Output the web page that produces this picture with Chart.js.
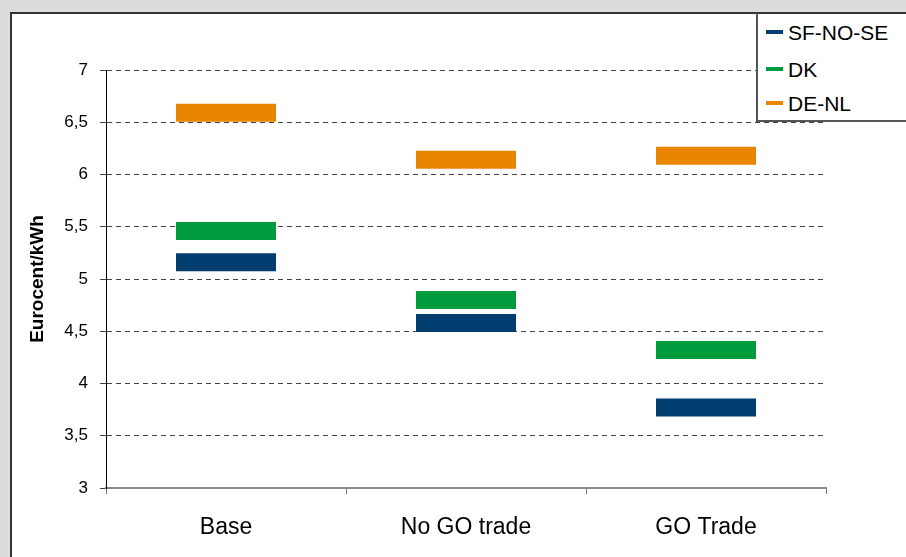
<!DOCTYPE html>
<html>
<head>
<meta charset="utf-8">
<script src="https://cdn.jsdelivr.net/npm/chart.js@4/dist/chart.umd.min.js"></script>
<style>
  html, body { margin: 0; padding: 0; }
  body { width: 906px; height: 557px; background: #dcdcdc; position: relative; overflow: hidden;
         font-family: "Liberation Sans", Arial, sans-serif; }
  .panel { position: absolute; left: 10px; top: 12px; width: 920px; height: 570px;
           background: #fff; border-top: 2px solid #333; border-left: 2px solid #333; }
  #chart { position: absolute; left: 0; top: 0; }
  .legend { position: absolute; left: 756px; top: 12px; width: 170px; height: 106px;
            background: #fff; border-left: 2px solid #555; border-bottom: 2px solid #555; border-top: 2px solid #333; }
  .legend .item { position: absolute; left: 8px; height: 26px; font-size: 21px; line-height: 26px; color: #000; }
  .legend .swatch { display: inline-block; width: 17px; height: 4px; vertical-align: middle; margin-right: 5px; position: relative; top: -2px; }
</style>
</head>
<body>
<div class="panel"></div>
<canvas id="chart" width="906" height="557"></canvas>
<div class="legend" id="legend"></div>
<script>
  // === Data ===
  const categories = ['Base', 'No GO trade', 'GO Trade'];
  const seriesNames = ['SF-NO-SE', 'DK', 'DE-NL'];
  const sfNoSe = [5.16, 4.58, 3.77];
  const dk = [5.46, 4.80, 4.32];
  const deNl = [6.59, 6.14, 6.18];
  const colors = ['#023d6f', '#019b3e', '#ea8500'];
  const yTicks = [3, 3.5, 4, 4.5, 5, 5.5, 6, 6.5, 7];

  const FONT = '"Liberation Sans", Arial, sans-serif';

  function markerSet(label, data, color) {
    return {
      label: label,
      data: data,
      showLine: false,
      pointStyle: 'line',
      pointRadius: 50,
      pointHoverRadius: 50,
      pointBorderWidth: 18,
      pointHoverBorderWidth: 18,
      borderColor: color,
      backgroundColor: color
    };
  }

  const chart = new Chart(document.getElementById('chart'), {
    type: 'line',
    data: {
      labels: categories,
      datasets: [
        markerSet(seriesNames[0], sfNoSe, colors[0]),
        markerSet(seriesNames[1], dk, colors[1]),
        markerSet(seriesNames[2], deNl, colors[2])
      ]
    },
    options: {
      responsive: false,
      animation: false,
      events: [],
      layout: { padding: { left: 0, top: 70, right: 80, bottom: 0 } },
      plugins: {
        legend: { display: false },
        tooltip: { enabled: false }
      },
      scales: {
        x: {
          offset: true,
          grid: { offset: true, drawOnChartArea: false, drawTicks: true, tickLength: 6, color: '#777', lineWidth: 1 },
          border: { display: true, color: '#888', width: 2 },
          ticks: { color: '#000', padding: 20, font: { family: FONT, size: 23 } },
          afterFit: function (scale) { scale.height = 69; }
        },
        y: {
          min: 3,
          max: 7,
          afterBuildTicks: function (scale) { scale.ticks = yTicks.map(v => ({ value: v })); },
          grid: {
            color: ctx => (ctx.tick && ctx.tick.value === 3) ? 'rgba(0,0,0,0)' : '#444',
            tickColor: '#444',
            lineWidth: 1,
            tickLength: 6
          },
          border: { display: true, color: '#000', width: 1, dash: [5, 4] },
          ticks: {
            color: '#000',
            padding: 12,
            font: { family: FONT, size: 17 },
            callback: v => String(v).replace('.', ',')
          },
          title: {
            display: true,
            text: 'Eurocent/kWh',
            color: '#000',
            font: { family: FONT, size: 19, weight: 'bold' },
            padding: { top: 26, bottom: 0 }
          },
          afterFit: function (scale) { scale.width = 106; }
        }
      }
    }
  });

  // === HTML legend from datasets ===
  const legendEl = document.getElementById('legend');
  const rowTops = [6, 43, 77];
  chart.data.datasets.forEach((ds, i) => {
    const item = document.createElement('div');
    item.className = 'item';
    item.style.top = rowTops[i] + 'px';
    item.innerHTML = '<span class="swatch" style="background:' + ds.borderColor + '"></span>' + ds.label;
    legendEl.appendChild(item);
  });
</script>
</body>
</html>
